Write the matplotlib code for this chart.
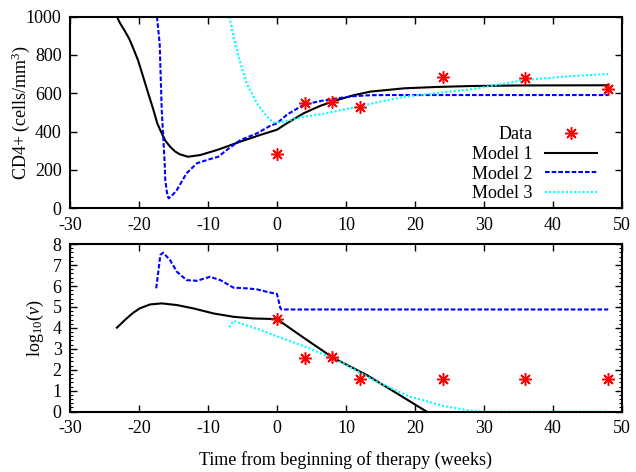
import matplotlib
matplotlib.use("Agg")
import matplotlib.pyplot as plt
from matplotlib.ticker import MultipleLocator

plt.rcParams['font.family'] = ['Liberation Serif', 'DejaVu Serif']
plt.rcParams['mathtext.fontset'] = 'custom'
plt.rcParams['mathtext.rm'] = 'Liberation Serif'
plt.rcParams['mathtext.it'] = 'Liberation Serif:italic'
plt.rcParams['axes.unicode_minus'] = False

# ---- data: measurements ----
data_weeks = [0, 4, 8, 12, 24, 36, 48]
data_cd4 = [285, 551, 553, 530, 686, 679, 620]
data_logv = [4.41, 2.56, 2.59, 1.57, 1.57, 1.57, 1.57]

# ---- Model 1 (CD4) ----
m1_cd4_t = [-23.2, -22.8, -22.05, -21.42, -20.83, -20.11, -19.4, -18.66, -17.9, -17.35, -16.7,
            -16.14, -15.5, -14.78, -14.1, -12.9, -11.1, -8.7, -5.3, -2.4, 0.0,
            1.45, 3.87, 6.3, 8.72, 11.1, 13.56, 18.4, 23.0, 28.1, 35.0, 48.0]
m1_cd4_y = [1000, 970, 925, 885, 835, 770, 687, 600, 513, 443, 391,
            351, 322, 297, 282, 269, 278, 304, 348, 383, 410,
            444, 496, 535, 565, 590, 609, 626, 633, 638, 641, 642]

# ---- Model 2 (CD4) ----
m2_cd4_t = [-17.4, -17.0, -16.7, -16.3, -16.19, -15.9, -15.7, -15.27, -14.5, -13.81, -13.1,
            -11.6, -9.7, -8.5, -7.3, -5.3, -2.9, -1.0, 0.0, 1.5, 3.87, 6.3, 8.72, 11.1,
            13.56, 16.0, 20.8, 30.0, 48.0]
m2_cd4_y = [1000, 861, 513, 252, 150, 69, 52, 64, 96, 139, 183,
            235, 257, 269, 304, 356, 391, 430, 444, 490, 540, 560, 574, 585,
            590, 591, 591, 591, 591]

# ---- Model 3 (CD4) ----
m3_cd4_t = [-6.9, -6.3, -5.3, -4.4, -2.9, -1.45, -0.5, 1.0, 3.87, 6.3, 9.0, 12.1, 18.4,
            24.0, 28.1, 32.0, 36.1, 42.0, 48.0]
m3_cd4_y = [1000, 896, 757, 652, 548, 478, 447, 452, 478, 490, 510, 534, 582,
            605, 621, 645, 670, 688, 701]

# ---- Model 1 (log10 v) ----
m1_v_t = [-23.2, -22.53, -21.8, -20.84, -19.9, -18.4, -16.7, -14.5, -12.1, -9.2, -6.3, -3.4,
          0.0, 4.0, 8.1, 13.0, 17.0, 21.45, 24.0]
m1_v_y = [4.01, 4.22, 4.45, 4.72, 4.93, 5.12, 5.17, 5.09, 4.93, 4.69, 4.53, 4.45,
          4.42, 3.50, 2.58, 1.75, 0.95, 0.05, -0.45]

# ---- Model 2 (log10 v) ----
m2_v_t = [-17.5, -17.2, -16.9, -16.5, -15.5, -14.5, -13.1, -11.6, -9.7, -8.2, -6.3, -4.4,
          -2.9, -1.45, 0.0, 0.5, 0.7, 48.0]
m2_v_y = [5.89, 6.68, 7.48, 7.59, 7.24, 6.68, 6.28, 6.25, 6.44, 6.28, 5.92, 5.89,
          5.84, 5.72, 5.62, 4.93, 4.88, 4.88]

# ---- Model 3 (log10 v) ----
m3_v_t = [-6.9, -6.3, -5.3, -2.4, -0.1, 4.74, 9.59, 14.43, 19.27, 24.13, 28.0, 30.0, 48.0]
m3_v_y = [4.03, 4.34, 4.22, 3.90, 3.61, 3.02, 2.31, 1.43, 0.72, 0.27, 0.05, 0.0, 0.0]

x_ticks = [-30, -20, -10, 0, 10, 20, 30, 40, 50]

FS = 13
fig = plt.figure(figsize=(6.36, 4.72), dpi=100)
ax1 = fig.add_axes([0.110, 0.5587, 0.868, 0.406])
ax2 = fig.add_axes([0.110, 0.1278, 0.868, 0.355])

blue_kw = dict(color='#0000ff', lw=1.5, dashes=(2.2, 1.0))
cyan_kw = dict(color='#00ffff', lw=1.5, dashes=(1.0, 1.0))
black_kw = dict(color='black', lw=1.5)
star_kw = dict(ls='none', marker=(8, 2, 0), ms=9, mew=1.1, color='#ff0000')

# Top panel
ax1.plot(data_weeks, data_cd4, label='Data', zorder=5, **star_kw)
ax1.plot(m1_cd4_t, m1_cd4_y, label='Model 1', **black_kw)
ax1.plot(m2_cd4_t, m2_cd4_y, label='Model 2', **blue_kw)
ax1.plot(m3_cd4_t, m3_cd4_y, label='Model 3', **cyan_kw)
ax1.set_xlim(-30, 50)
ax1.set_ylim(0, 1000)
ax1.set_xticks(x_ticks)
ax1.set_yticks([0, 200, 400, 600, 800, 1000])
ax1.set_ylabel('CD4+ (cells/mm$^3$)', fontsize=FS, va='center')
ax1.yaxis.set_label_coords(-0.090, 0.5)
leg = ax1.legend(loc='lower right', markerfirst=False, frameon=False, fontsize=FS,
                 handlelength=2.9, handletextpad=0.7, labelspacing=0.15,
                 bbox_to_anchor=(0.975, -0.025), borderaxespad=0.2)

# Bottom panel
ax2.plot(data_weeks, data_logv, zorder=5, **star_kw)
ax2.plot(m1_v_t, m1_v_y, **black_kw)
ax2.plot(m2_v_t, m2_v_y, **blue_kw)
ax2.plot(m3_v_t, m3_v_y, **cyan_kw)
ax2.set_xlim(-30, 50)
ax2.set_ylim(0, 8)
ax2.set_xticks(x_ticks)
ax2.set_yticks(range(0, 9))
ax2.yaxis.set_minor_locator(MultipleLocator(0.2))
ax2.set_ylabel('log$_{10}$($v$)', fontsize=FS, va='center')
ax2.yaxis.set_label_coords(-0.062, 0.5)
ax2.set_xlabel('Time from beginning of therapy (weeks)', fontsize=FS, labelpad=10)

for ax in (ax1, ax2):
    for s in ax.spines.values():
        s.set_linewidth(1.5)
    ax.tick_params(which='major', direction='in', length=5, width=1.0,
                   top=True, right=True, labelsize=FS, pad=6)
    ax.tick_params(which='minor', direction='in', length=2.5, width=0.8,
                   left=True, right=True)

fig.savefig('out.png', dpi=100)
